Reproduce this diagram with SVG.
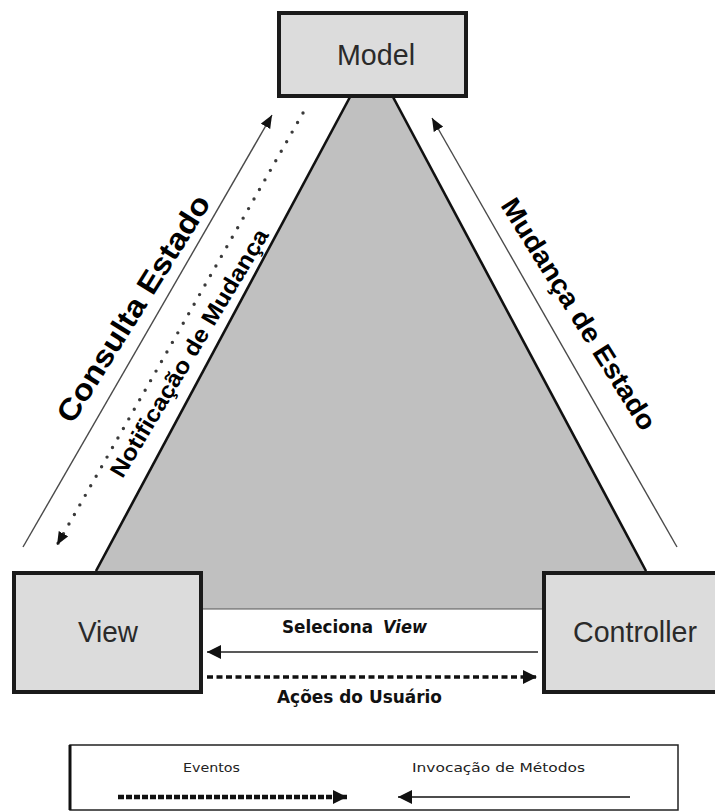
<svg xmlns="http://www.w3.org/2000/svg" width="715" height="812" viewBox="0 0 715 812">
<style>
.box{fill:#dcdcdc;stroke:#1a1a1a;stroke-width:4}
.lbl{font-family:"Liberation Sans",Arial,sans-serif;fill:#2a2a2a}
.diag{font-family:"Liberation Sans",Arial,sans-serif;fill:#000;font-weight:bold}
.bold{font-family:"DejaVu Sans",Verdana,sans-serif;font-weight:bold;fill:#111}
.leg{font-family:"DejaVu Sans",Verdana,sans-serif;fill:#222}
.thin{stroke:#4a4a4a;stroke-width:1.4;fill:none}
.dots{stroke:#3a3a3a;stroke-width:3.4;stroke-linecap:round;stroke-dasharray:0 11;fill:none}
.dash{stroke:#111;stroke-width:3.6;stroke-dasharray:6 3.5;fill:none}
</style>
<defs>
<marker id="ah" viewBox="0 0 12 10" refX="12" refY="5" markerWidth="13" markerHeight="11" orient="auto" markerUnits="userSpaceOnUse">
<path d="M0,0 L12,5 L0,10 z" fill="#111"/>
</marker>
<marker id="ahb" viewBox="0 0 12 12" refX="12" refY="6" markerWidth="14" markerHeight="15" orient="auto" markerUnits="userSpaceOnUse">
<path d="M0,0 L12,6 L0,12 z" fill="#111"/>
</marker>
</defs>
<rect x="0" y="0" width="715" height="812" fill="#fff"/>

<g id="triangle">
<polygon points="350,97 393,97 647,571 647,609 95,609 95,571" fill="#c0c0c0"/>
<line x1="350" y1="97" x2="96" y2="571" stroke="#111" stroke-width="2.6"/>
<line x1="393" y1="97" x2="646" y2="571" stroke="#111" stroke-width="2.6"/>
<line x1="200" y1="609" x2="545" y2="609" stroke="#555" stroke-width="1.2"/>
</g>

<g id="model">
<rect class="box" x="279" y="13" width="187" height="83"/>
<text class="lbl" x="337" y="65" font-size="30" textLength="78" lengthAdjust="spacingAndGlyphs">Model</text>
</g>

<g id="view">
<rect class="box" x="14" y="573" width="187" height="119"/>
<text class="lbl" x="78" y="642" font-size="30" textLength="60" lengthAdjust="spacingAndGlyphs">View</text>
</g>

<g id="controller">
<rect class="box" x="544" y="573" width="175" height="119"/>
<text class="lbl" x="573" y="642" font-size="30" textLength="124" lengthAdjust="spacingAndGlyphs">Controller</text>
</g>

<g id="connectors">
<line class="thin" x1="23" y1="547" x2="272" y2="115" marker-end="url(#ah)"/>
<line class="dots" x1="303" y1="113" x2="57" y2="545" marker-end="url(#ah)"/>
<line class="thin" x1="677" y1="547" x2="432" y2="118" marker-end="url(#ah)"/>
<line x1="538" y1="652" x2="207" y2="652" stroke="#222" stroke-width="1.5" marker-end="url(#ahb)"/>
<line class="dash" x1="207" y1="677" x2="537" y2="677" marker-end="url(#ahb)"/>
</g>

<g id="labels">
<text class="diag" font-size="30" text-anchor="middle" textLength="262" lengthAdjust="spacingAndGlyphs" transform="translate(142,314) rotate(-58)">Consulta Estado</text>
<text class="diag" font-size="23" text-anchor="middle" textLength="285" lengthAdjust="spacingAndGlyphs" transform="translate(196,357) rotate(-59)">Notificação de Mudança</text>
<text class="diag" font-size="27" text-anchor="middle" textLength="268" lengthAdjust="spacingAndGlyphs" transform="translate(571,319) rotate(58)">Mudança de Estado</text>
<text class="bold" x="282" y="633" font-size="17" textLength="91" lengthAdjust="spacingAndGlyphs">Seleciona</text>
<text class="bold" x="383" y="633" font-size="17" font-style="italic" textLength="44" lengthAdjust="spacingAndGlyphs">View</text>
<text class="bold" x="277" y="703" font-size="17" textLength="165" lengthAdjust="spacingAndGlyphs">Ações do Usuário</text>
</g>

<g id="legend">
<rect x="70" y="745" width="608" height="65" fill="#fff" stroke="#222" stroke-width="1.5"/>
<line x1="70" y1="745" x2="70" y2="810" stroke="#111" stroke-width="3"/>
<text class="leg" x="183" y="772" font-size="13" textLength="57" lengthAdjust="spacingAndGlyphs">Eventos</text>
<text class="leg" x="412" y="772" font-size="13" textLength="173" lengthAdjust="spacingAndGlyphs">Invocação de Métodos</text>
<line x1="118" y1="797" x2="347" y2="797" stroke="#111" stroke-width="4.5" stroke-dasharray="6 2" marker-end="url(#ahb)"/>
<line x1="630" y1="797" x2="398" y2="797" stroke="#111" stroke-width="1.3" marker-end="url(#ahb)"/>
</g>
</svg>
